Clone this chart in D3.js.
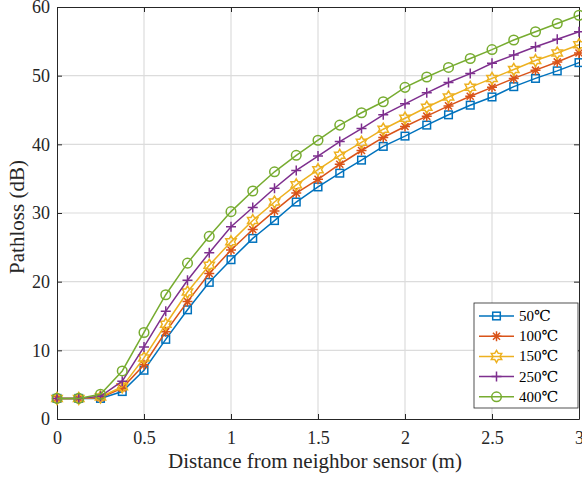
<!DOCTYPE html>
<html>
<head>
<meta charset="utf-8">
<script src="https://cdn.jsdelivr.net/npm/d3@7"></script>
<style>
  body { margin: 0; background: #fff; }
  svg { font-family: "Liberation Serif", "DejaVu Serif", serif; }
</style>
</head>
<body>
<svg id="chart" width="582" height="477"></svg>
<script>
// distance points (m)
const distance = d3.range(25).map(i => i * 0.125);

const labels = ['50\u2103', '100\u2103', '150\u2103', '250\u2103', '400\u2103'];
const colors = ['#0072BD', '#D95319', '#EDB120', '#7E2F8E', '#77AC30'];
const markers = ['square', 'asterisk', 'hexagram', 'plus', 'circle'];

const loss50  = [3.0, 3.0, 3.0, 4.0, 7.1, 11.6, 15.9, 19.9, 23.2, 26.3, 28.9, 31.6, 33.8, 35.8, 37.7, 39.7, 41.2, 42.8, 44.3, 45.7, 46.9, 48.4, 49.6, 50.7, 51.9];
const loss100 = [3.0, 3.0, 3.1, 4.5, 7.9, 12.7, 17.1, 21.2, 24.6, 27.6, 30.3, 32.9, 34.9, 37.1, 39.1, 41.0, 42.6, 44.1, 45.6, 47.0, 48.3, 49.6, 50.8, 52.0, 53.3];
const loss150 = [3.0, 3.0, 3.2, 4.7, 8.9, 13.8, 18.5, 22.4, 25.8, 28.9, 31.6, 34.1, 36.3, 38.4, 40.3, 42.2, 43.8, 45.4, 46.9, 48.3, 49.6, 50.9, 52.2, 53.3, 54.5];
const loss250 = [3.0, 3.0, 3.3, 5.5, 10.5, 15.7, 20.2, 24.2, 28.0, 30.8, 33.6, 36.2, 38.3, 40.4, 42.3, 44.3, 45.9, 47.5, 49.0, 50.3, 51.8, 53.0, 54.2, 55.3, 56.4];
const loss400 = [3.0, 3.0, 3.6, 7.0, 12.6, 18.1, 22.7, 26.6, 30.2, 33.2, 36.0, 38.4, 40.6, 42.8, 44.6, 46.2, 48.3, 49.8, 51.2, 52.5, 53.8, 55.2, 56.4, 57.6, 58.8];
const series = [loss50, loss100, loss150, loss250, loss400];

const xTicks = [0, 0.5, 1, 1.5, 2, 2.5, 3];
const yTicks = [0, 10, 20, 30, 40, 50, 60];

const svg = d3.select('#chart');
const plotL = 57, plotR = 579, plotT = 7, plotB = 419;

const x = d3.scaleLinear().domain([0, 3]).range([plotL, plotR]);
const y = d3.scaleLinear().domain([0, 60]).range([plotB, plotT]);

// grid
const grid = svg.append('g');
grid.selectAll('.gx').data(xTicks.slice(1, -1)).enter().append('line')
    .attr('x1', d => x(d)).attr('x2', d => x(d))
    .attr('y1', plotT).attr('y2', plotB)
    .attr('stroke', '#dcdcdc').attr('stroke-width', 1.2);
grid.selectAll('.gy').data(yTicks.slice(1, -1)).enter().append('line')
    .attr('y1', d => y(d)).attr('y2', d => y(d))
    .attr('x1', plotL).attr('x2', plotR)
    .attr('stroke', '#dcdcdc').attr('stroke-width', 1.2);

// axes (ticks inward)
const axisColor = '#262626';
const xAxis = svg.append('g').attr('transform', `translate(0,${plotB})`)
    .call(d3.axisBottom(x).tickValues(xTicks).tickFormat(d3.format('')).tickSizeInner(-5).tickSizeOuter(0).tickPadding(12));
const yAxis = svg.append('g').attr('transform', `translate(${plotL},0)`)
    .call(d3.axisLeft(y).tickValues(yTicks).tickSizeInner(-5).tickSizeOuter(0).tickPadding(7));
const xTop = svg.append('g').attr('transform', `translate(0,${plotT})`)
    .call(d3.axisTop(x).tickValues(xTicks).tickFormat('').tickSizeInner(-5).tickSizeOuter(0));
const yRight = svg.append('g').attr('transform', `translate(${plotR},0)`)
    .call(d3.axisRight(y).tickValues(yTicks).tickFormat('').tickSizeInner(-5).tickSizeOuter(0));

[xAxis, yAxis, xTop, yRight].forEach(a => {
    a.select('.domain').attr('stroke', axisColor);
    a.selectAll('.tick line').attr('stroke', axisColor);
    a.selectAll('.tick text').attr('fill', axisColor)
        .style('font-family', '"Liberation Serif", serif').style('font-size', '18px');
});

// marker drawing
function drawMarker(g, type, color) {
    const sw = 1.5;
    if (type === 'square') {
        g.append('rect').attr('x', -3.8).attr('y', -3.8).attr('width', 7.6).attr('height', 7.6)
            .attr('fill', 'none').attr('stroke', color).attr('stroke-width', sw);
    } else if (type === 'circle') {
        g.append('circle').attr('r', 4.8).attr('fill', 'none').attr('stroke', color).attr('stroke-width', sw);
    } else if (type === 'plus') {
        g.append('path').attr('d', 'M-5,0H5M0,-5V5').attr('stroke', color).attr('stroke-width', sw);
    } else if (type === 'asterisk') {
        const r = 5, d = r * 0.7071;
        g.append('path').attr('d', `M${-r},0H${r}M0,${-r}V${r}M${-d},${-d}L${d},${d}M${-d},${d}L${d},${-d}`)
            .attr('stroke', color).attr('stroke-width', sw);
    } else if (type === 'hexagram') {
        const pts = [];
        for (let i = 0; i < 12; i++) {
            const rr = i % 2 === 0 ? 6 : 3.5;
            const a = -Math.PI / 2 + i * Math.PI / 6;
            pts.push([rr * Math.cos(a), rr * Math.sin(a)]);
        }
        g.append('path').attr('d', 'M' + pts.map(p => p.join(',')).join('L') + 'Z')
            .attr('fill', 'none').attr('stroke', color).attr('stroke-width', sw);
    }
}

// lines and markers
const line = d3.line().x((d, i) => x(distance[i])).y(d => y(d));
series.forEach((vals, s) => {
    const g = svg.append('g');
    g.append('path').datum(vals).attr('d', line)
        .attr('fill', 'none').attr('stroke', colors[s]).attr('stroke-width', 1.5);
    vals.forEach((v, i) => {
        const m = g.append('g').attr('transform', `translate(${x(distance[i])},${y(v)})`);
        drawMarker(m, markers[s], colors[s]);
    });
});

// legend
const lg = svg.append('g');
lg.append('rect').attr('x', 474).attr('y', 303).attr('width', 104).attr('height', 105)
    .attr('fill', '#fff').attr('stroke', axisColor).attr('stroke-width', 0.8);
labels.forEach((lab, s) => {
    const cy = 316 + s * 20.2;
    lg.append('line').attr('x1', 479).attr('x2', 514).attr('y1', cy).attr('y2', cy)
        .attr('stroke', colors[s]).attr('stroke-width', 1.5);
    drawMarker(lg.append('g').attr('transform', `translate(496.5,${cy})`), markers[s], colors[s]);
    lg.append('text').attr('x', 519).attr('y', cy + 5).text(lab)
        .attr('fill', '#000').style('font-size', '15px');
});

// axis labels
svg.append('text').attr('x', 315).attr('y', 468).attr('text-anchor', 'middle')
    .attr('fill', axisColor).style('font-size', '21px').text('Distance from neighbor sensor (m)');
svg.append('text').attr('transform', `translate(24,217) rotate(-90)`)
    .attr('text-anchor', 'middle').attr('fill', axisColor).style('font-size', '21px').text('Pathloss (dB)');
</script>
</body>
</html>
